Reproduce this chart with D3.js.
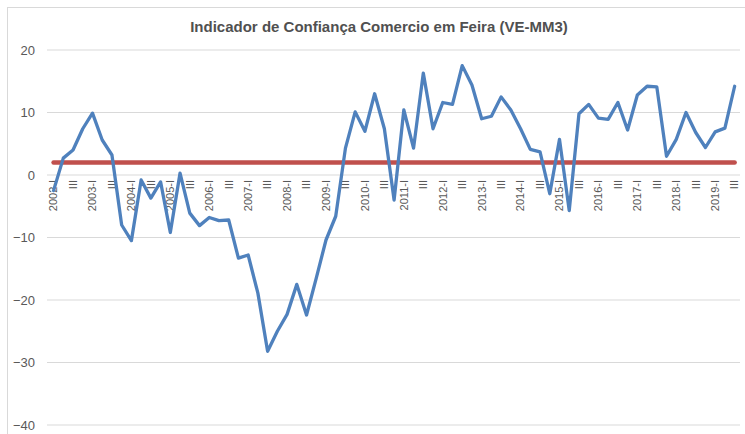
<!DOCTYPE html>
<html>
<head>
<meta charset="utf-8">
<script src="https://cdn.jsdelivr.net/npm/d3@7"></script>
<style>
  body { margin: 0; background: #fff; }
  text { font-family: "Liberation Sans", Arial, sans-serif; fill: #595959; }
</style>
</head>
<body>
<div id="chart"></div>
<script>
// categories: quarters from 2002-I to 2019-III
const years = [2002, 2003, 2004, 2005, 2006, 2007, 2008, 2009, 2010,
               2011, 2012, 2013, 2014, 2015, 2016, 2017, 2018, 2019];
const quarters = ["I", "II", "III", "IV"];

// Indicador de Confiança (VE-MM3)
const confianca = [
  -2.5, 2.7, 4.0, 7.4,
  9.9, 5.6, 3.2, -8.0,
  -10.5, -0.8, -3.7, -1.1,
  -9.2, 0.3, -6.1, -8.1,
  -6.8, -7.3, -7.2, -13.3,
  -12.8, -18.9, -28.2, -25.0,
  -22.3, -17.5, -22.4, -16.5,
  -10.4, -6.6, 4.3, 10.1,
  7.0, 13.0, 7.4, -4.0,
  10.4, 4.3, 16.3, 7.4,
  11.6, 11.3, 17.5, 14.4,
  9.0, 9.4, 12.5, 10.4,
  7.4, 4.1, 3.7, -3.0,
  5.7, -5.7, 9.8, 11.3,
  9.1, 8.9, 11.6, 7.2,
  12.8, 14.2, 14.1, 3.0,
  5.7, 10.0, 6.8, 4.4,
  6.9, 7.5, 14.2
];
const referencia = 2;
const yTicks = [20, 10, 0, -10, -20, -30, -40];

const categories = [];
years.forEach(function(y) {
  quarters.forEach(function(q) {
    categories.push(q === "I" ? y + "-" + q : q);
  });
});
categories.length = confianca.length;
const keys = d3.range(confianca.length);

const width = 745, height = 434;
const svg = d3.select("#chart").append("svg")
  .attr("width", width)
  .attr("height", height);

// chart area border
svg.append("rect")
  .attr("x", 7.5).attr("y", 7.5)
  .attr("width", 760).attr("height", 460)
  .attr("fill", "none")
  .attr("stroke", "#d9d9d9");

const x = d3.scaleBand().domain(keys).range([48.7, 739.5]);
const y = d3.scaleLinear().domain([-40, 20]).range([425, 50]);
const cx = function(i) { return x(i) + x.bandwidth() / 2; };

// title
svg.append("text")
  .attr("x", 379).attr("y", 32)
  .attr("text-anchor", "middle")
  .style("font-size", "15px")
  .style("font-weight", "bold")
  .style("fill", "#505050")
  .text("Indicador de Confiança Comercio em Feira (VE-MM3)");

// gridlines
svg.append("g").selectAll("line")
  .data(yTicks)
  .join("line")
  .attr("x1", 47).attr("x2", 740)
  .attr("y1", d => y(d)).attr("y2", d => y(d))
  .attr("stroke", "#d9d9d9")
  .attr("stroke-width", 1);

// y axis labels
const yAxis = d3.axisLeft(y).tickValues(yTicks).tickSize(0).tickPadding(0);
svg.append("g")
  .attr("transform", "translate(35,0)")
  .call(yAxis)
  .call(g => g.select(".domain").remove())
  .call(g => g.selectAll("text")
    .style("font-size", "13px")
    .style("fill", "#595959")
    .style("font-family", "'Liberation Sans', Arial, sans-serif"));

// category labels, every other quarter, rotated
svg.append("g").selectAll("text")
  .data(keys.filter(i => i % 2 === 0))
  .join("text")
  .attr("transform", i => "translate(" + cx(i) + "," + (y(0) + 5) + ") rotate(-90)")
  .attr("text-anchor", "end")
  .attr("dy", "0.35em")
  .style("font-size", "11px")
  .text(i => categories[i]);

// reference line
svg.append("line")
  .attr("x1", cx(0)).attr("x2", cx(keys.length - 1))
  .attr("y1", y(referencia)).attr("y2", y(referencia))
  .attr("stroke", "#c0504d")
  .attr("stroke-width", 4.5)
  .attr("stroke-linecap", "round");

// main series
const line = d3.line()
  .x((d, i) => cx(i))
  .y(d => y(d));

svg.append("path")
  .datum(confianca)
  .attr("d", line)
  .attr("fill", "none")
  .attr("stroke", "#4f81bd")
  .attr("stroke-width", 3.3)
  .attr("stroke-linejoin", "round")
  .attr("stroke-linecap", "round");
</script>
</body>
</html>
